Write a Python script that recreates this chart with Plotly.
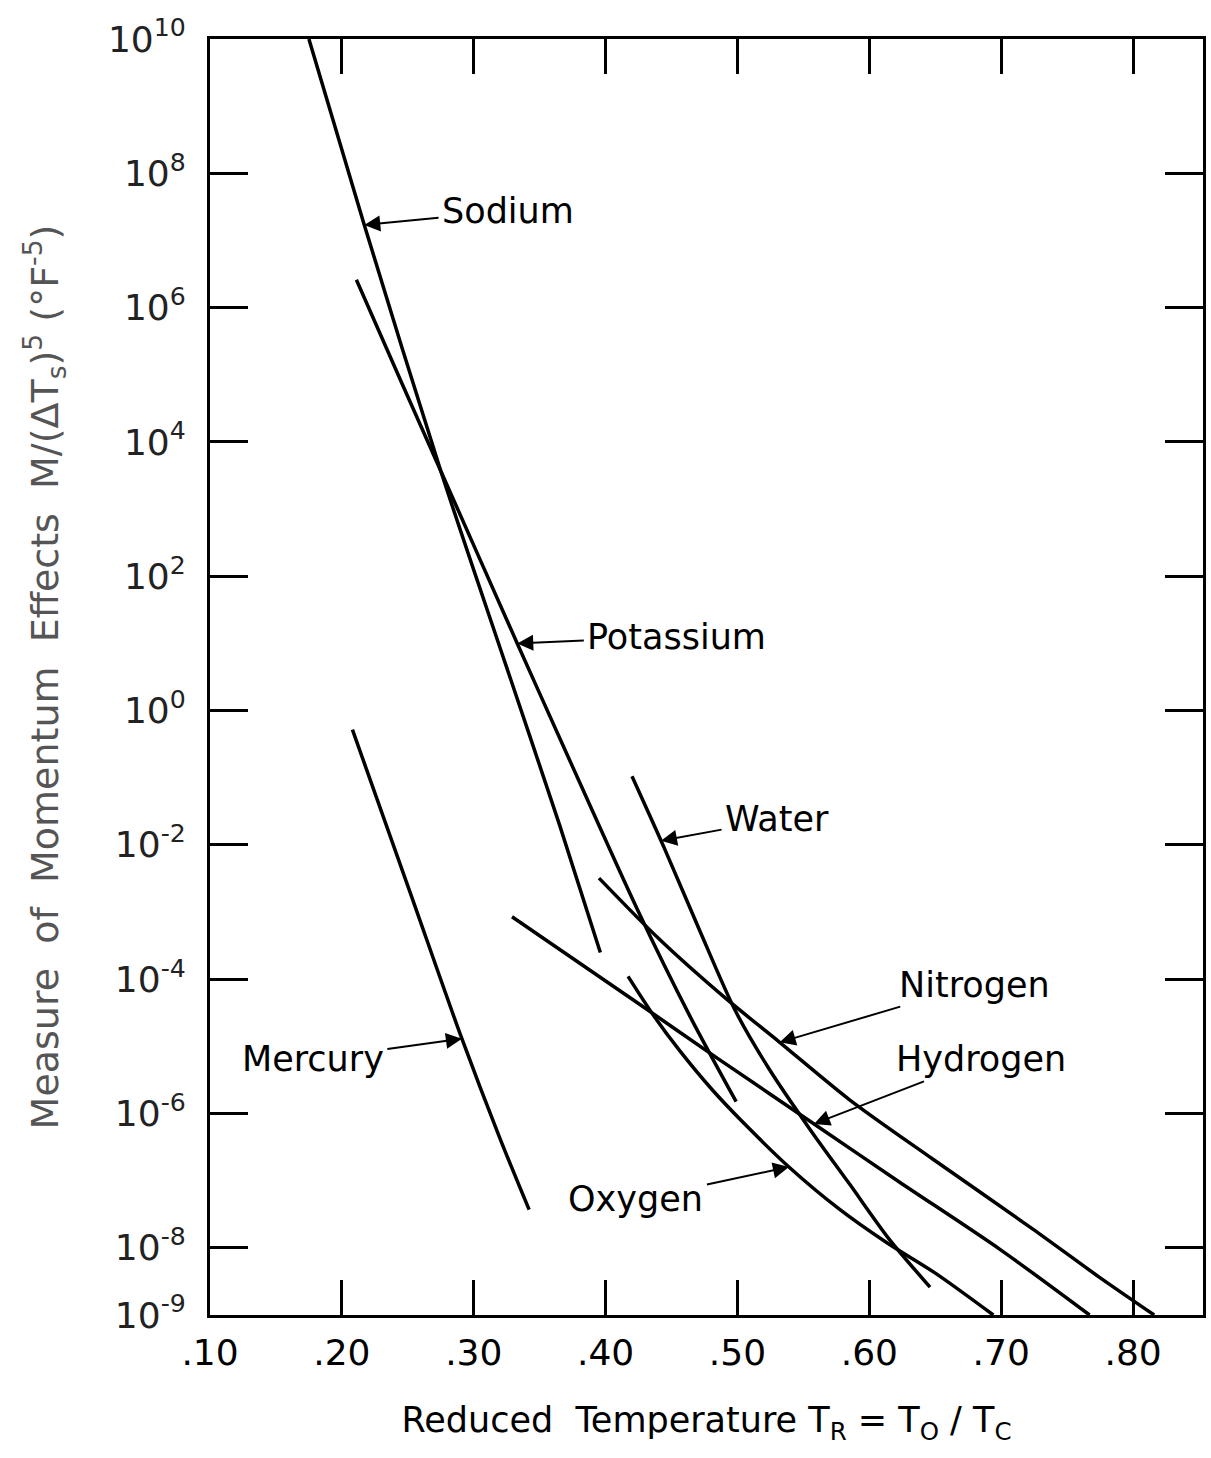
import numpy as np
import plotly.graph_objects as go

# ---------------- data ----------------
sodium_x = [0.175, 0.217, 0.275, 0.324, 0.365, 0.396]
sodium_y = [1.0e10, 1.7e7, 3.7e3, 5.0e0, 2.0e-2, 2.5e-4]

potassium_x = [0.211, 0.246, 0.275, 0.333, 0.370, 0.424, 0.464, 0.499]
potassium_y = [2.6e6, 7.1e4, 3.7e3, 1.0e1, 2.4e-1, 1.1e-3, 2.8e-5, 1.5e-6]

mercury_x = [0.208, 0.252, 0.291, 0.320, 0.342]
mercury_y = [5.2e-1, 1.9e-3, 1.3e-5, 4.2e-7, 3.7e-8]

water_x = [0.420, 0.445, 0.471, 0.498, 0.524, 0.555, 0.585, 0.615, 0.646]
water_y = [1.05e-1, 8.5e-3, 5.5e-4, 3.5e-5, 4.6e-6, 5.8e-7, 8.9e-8, 1.35e-8, 2.6e-9]

nitrogen_x = [0.395, 0.441, 0.492, 0.532, 0.585, 0.648, 0.724, 0.774, 0.816]
nitrogen_y = [3.2e-3, 3.9e-4, 5.0e-5, 1.15e-5, 1.6e-6, 2.1e-7, 1.9e-8, 3.7e-9, 1.0e-9]

hydrogen_x = [0.329, 0.426, 0.486, 0.562, 0.623, 0.699, 0.767]
hydrogen_y = [8.5e-4, 4.2e-5, 6.4e-6, 6.2e-7, 9.5e-8, 9.5e-9, 1.0e-9]

oxygen_x = [0.417, 0.436, 0.456, 0.481, 0.507, 0.539, 0.577, 0.613, 0.650, 0.694]
oxygen_y = [1.1e-4, 2.95e-5, 8.7e-6, 2.24e-6, 6.5e-7, 1.6e-7, 3.8e-8, 1.2e-8, 4.2e-9, 1.0e-9]

x_tickvals = [0.10, 0.20, 0.30, 0.40, 0.50, 0.60, 0.70, 0.80]
x_ticktext = [".10", ".20", ".30", ".40", ".50", ".60", ".70", ".80"]
y_exponents = [10, 8, 6, 4, 2, 0, -2, -4, -6, -8, -9]

series = [
    ("Sodium", sodium_x, sodium_y),
    ("Potassium", potassium_x, potassium_y),
    ("Mercury", mercury_x, mercury_y),
    ("Water", water_x, water_y),
    ("Nitrogen", nitrogen_x, nitrogen_y),
    ("Hydrogen", hydrogen_x, hydrogen_y),
    ("Oxygen", oxygen_x, oxygen_y),
]

# label placement: (text x, text log10 y, x where the arrow touches the curve)
label_pos = {
    "Sodium": (0.326, 7.44, 0.217),
    "Potassium": (0.454, 1.10, 0.333),
    "Water": (0.530, -1.62, 0.442),
    "Nitrogen": (0.680, -4.08, 0.532),
    "Hydrogen": (0.685, -5.19, 0.558),
    "Oxygen": (0.423, -7.28, 0.539),
    "Mercury": (0.178, -5.19, 0.291),
}

FONT = "DejaVu Sans"

fig = go.Figure()
for name, xs, ys in series:
    fig.add_trace(go.Scatter(
        x=xs, y=ys, mode="lines", name=name, showlegend=False,
        line=dict(color="black", width=3.5, shape="spline", smoothing=0.8),
    ))

annotations = []
for name, xs, ys in series:
    tx, tl, px = label_pos[name]
    py = float(np.interp(px, xs, np.log10(ys)))
    annotations.append(dict(
        x=px, y=py, xref="x", yref="y",
        ax=tx, ay=tl, axref="x", ayref="y",
        text=name, showarrow=True,
        arrowhead=2, arrowsize=1.6, arrowwidth=2, arrowcolor="black",
        standoff=0, startstandoff=2,
        font=dict(family=FONT, size=35, color="black"),
    ))

fig.update_layout(
    width=1211, height=1458,
    margin=dict(l=210, r=5, t=39, b=143),
    paper_bgcolor="white", plot_bgcolor="white",
    annotations=annotations,
    font=dict(family=FONT, color="black"),
)

fig.update_xaxes(
    range=[0.10, 0.853],
    tickvals=x_tickvals, ticktext=x_ticktext,
    ticks="inside", ticklen=35, tickwidth=2.5, tickcolor="black",
    showline=True, linewidth=3, linecolor="black", mirror="ticks",
    showgrid=False, zeroline=False,
    tickfont=dict(family=FONT, size=36, color="black"),
    ticklabelstandoff=4,
    title=dict(
        text="Reduced  Temperature T<sub>R</sub> = T<sub>O</sub> / T<sub>C</sub>",
        font=dict(family=FONT, size=35, color="black"),
        standoff=36,
    ),
)

fig.update_yaxes(
    type="log", range=[-9, 10],
    tickvals=[10.0 ** e for e in y_exponents],
    ticktext=["10<sup>%d</sup>" % e for e in y_exponents],
    ticks="inside", ticklen=38, tickwidth=2.5, tickcolor="black",
    showline=True, linewidth=3, linecolor="black", mirror="ticks",
    showgrid=False, zeroline=False,
    tickfont=dict(family=FONT, size=36, color="#222"),
    ticklabelstandoff=14,
    title=dict(
        text="Measure  of  Momentum  Effects  M/(ΔT<sub>s</sub>)<sup>5</sup> (°F<sup>-5</sup>)",
        font=dict(family=FONT, size=38, color="#555"),
        standoff=38,
    ),
)

fig.write_html("out.html")
